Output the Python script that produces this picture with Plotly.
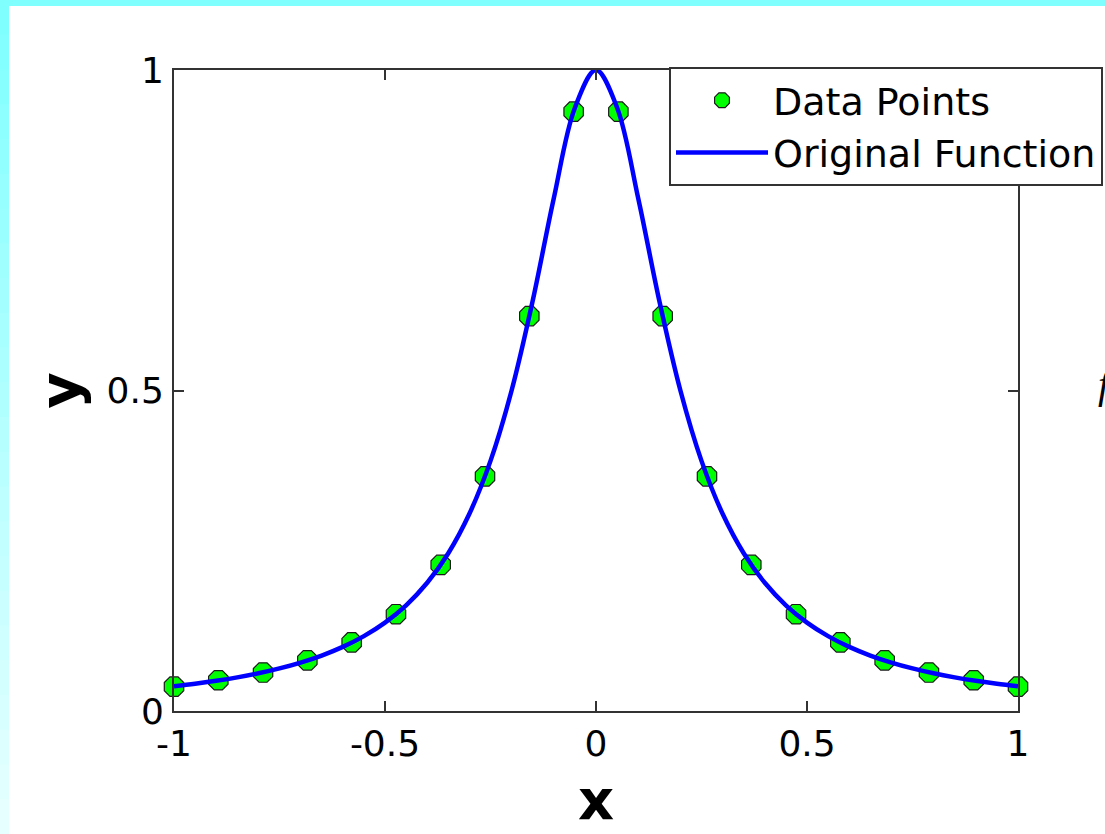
import plotly.graph_objects as go

# ---- data ----
x_points = [-1.0, -0.895, -0.789, -0.684, -0.579, -0.474, -0.368, -0.263, -0.158, -0.053,
            0.053, 0.158, 0.263, 0.368, 0.474, 0.579, 0.684, 0.789, 0.895, 1.0]
y_points = [0.038, 0.048, 0.060, 0.079, 0.107, 0.151, 0.228, 0.366, 0.616, 0.935,
            0.935, 0.616, 0.366, 0.228, 0.151, 0.107, 0.079, 0.060, 0.048, 0.038]

x_curve = [-1.0, -0.95, -0.9, -0.85, -0.8, -0.75, -0.7, -0.65, -0.6, -0.55, -0.5,
           -0.45, -0.4, -0.35, -0.3, -0.25, -0.2, -0.15, -0.1, -0.05, 0.0,
           0.05, 0.1, 0.15, 0.2, 0.25, 0.3, 0.35, 0.4, 0.45, 0.5,
           0.55, 0.6, 0.65, 0.7, 0.75, 0.8, 0.85, 0.9, 0.95, 1.0]
y_curve = [0.0385, 0.0424, 0.0471, 0.0525, 0.0588, 0.0664, 0.0755, 0.0865, 0.100, 0.1168, 0.1379,
           0.1649, 0.200, 0.2462, 0.3077, 0.3902, 0.500, 0.640, 0.800, 0.9412, 1.0,
           0.9412, 0.800, 0.640, 0.500, 0.3902, 0.3077, 0.2462, 0.200, 0.1649, 0.1379,
           0.1168, 0.100, 0.0865, 0.0755, 0.0664, 0.0588, 0.0525, 0.0471, 0.0424, 0.0385]

x_tickvals = [-1, -0.5, 0, 0.5, 1]
x_ticktext = ["-1", "-0.5", "0", "0.5", "1"]
y_tickvals = [0, 0.5, 1]
y_ticktext = ["0", "0.5", "1"]

W, H = 1105, 834
L, R, T, B = 174, 87, 70, 123
PW, PH = W - L - R, H - T - B


def px_x(px):
    return (px - L) / PW


def px_y(py):
    return (H - B - py) / PH


FONT = "DejaVu Sans"

fig = go.Figure()
fig.add_trace(go.Scatter(
    x=x_points, y=y_points, mode="markers", name="Data Points",
    marker=dict(symbol="octagon", size=21, color="#00FF00",
                line=dict(color="#1a1a1a", width=1.2)),
    cliponaxis=False,
))
fig.add_trace(go.Scatter(
    x=x_curve, y=y_curve, mode="lines", name="Original Function",
    line=dict(color="#0000FF", width=4.5, shape="spline"),
    cliponaxis=False,
))

# cyan frame (top band and left gradient band)
shapes = [dict(type="rect", xref="paper", yref="paper",
               x0=px_x(0), x1=px_x(W), y0=px_y(6), y1=px_y(0),
               fillcolor="#80FFFF", line=dict(width=0), layer="below")]
n = 24
for i in range(n):
    t = i / (n - 1)
    g = int(0x80 + (0xE6 - 0x80) * t)
    col = "#%02XFFFF" % g
    y0 = H * i / n
    y1 = H * (i + 1) / n + 1
    shapes.append(dict(type="rect", xref="paper", yref="paper",
                       x0=px_x(0), x1=px_x(9), y0=px_y(y1), y1=px_y(y0),
                       fillcolor=col, line=dict(width=0), layer="below"))

axis_common = dict(
    showline=True, linecolor="#333333", linewidth=2, mirror="ticks",
    ticks="inside", ticklen=10, tickwidth=1.5, tickcolor="#333333",
    showgrid=False, zeroline=False,
    tickfont=dict(family=FONT, size=36, color="black"),
)

fig.update_layout(
    width=W, height=H,
    margin=dict(l=L, r=R, t=T, b=B, autoexpand=False),
    paper_bgcolor="white", plot_bgcolor="white",
    showlegend=True,
    legend=dict(
        x=px_x(669), y=px_y(67), xanchor="left", yanchor="top",
        bgcolor="white", bordercolor="#333333", borderwidth=2,
        font=dict(family=FONT, size=38, color="black"),
        traceorder="normal", itemwidth=92,
    ),
    xaxis=dict(range=[-1, 1], tickvals=x_tickvals, ticktext=x_ticktext,
               ticklabelstandoff=0,
               title=dict(text="<b>x</b>", font=dict(family=FONT, size=56, color="black"),
                          standoff=17),
               **axis_common),
    yaxis=dict(range=[0, 1], tickvals=y_tickvals, ticktext=y_ticktext,
               ticklabelstandoff=1,
               title=dict(text="<b>y</b>", font=dict(family=FONT, size=56, color="black"),
                          standoff=9),
               **axis_common),
    shapes=shapes,
    annotations=[dict(xref="paper", yref="paper", x=px_x(1096), y=px_y(384),
                      xanchor="left", yanchor="middle", showarrow=False,
                      text="<i>f</i>",
                      font=dict(family="Liberation Serif", size=40, color="black"))],
)

fig.write_html("out.html", config={"displayModeBar": False},
               post_script="document.body.style.margin='0';")
